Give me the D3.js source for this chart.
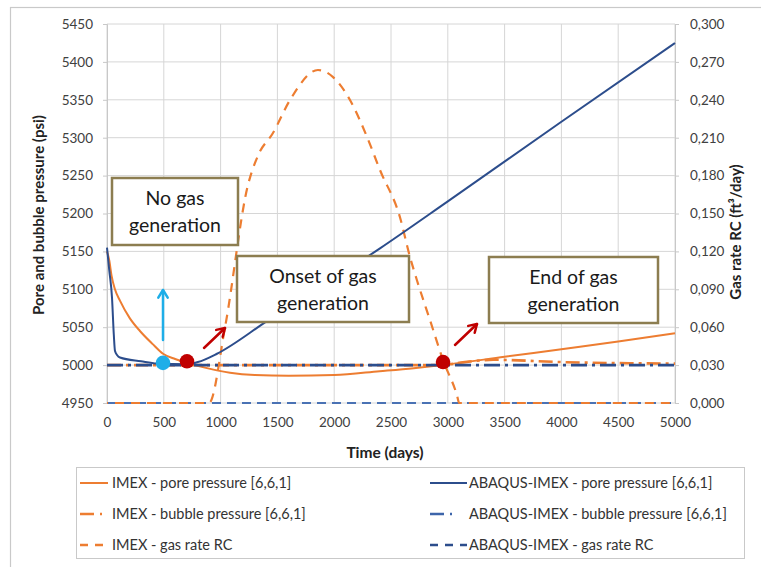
<!DOCTYPE html>
<html><head><meta charset="utf-8">
<script src="https://cdn.jsdelivr.net/npm/d3@7"></script>
<style>
body{margin:0;background:#fff;}
svg{display:block;font-family:Lato,"Open Sans",sans-serif;}
</style></head>
<body><svg id="c" width="761" height="567"></svg>
<script>
// ---- data ----
const xTicks = [0,500,1000,1500,2000,2500,3000,3500,4000,4500,5000];
const yLeftTicks = [4950,5000,5050,5100,5150,5200,5250,5300,5350,5400,5450];
const yRightTicks = [0,0.03,0.06,0.09,0.12,0.15,0.18,0.21,0.24,0.27,0.30];

const imexPoreT = [0,20,40,70,114,200,290,400,493,600,704,880,1083,1300,1600,2000,2400,2700,2950,3500,4000,4500,5000];
const imexPoreP = [5150,5138,5118,5100,5085,5062,5045,5028,5015,5008,5003,4996,4990,4987,4986,4987,4992,4996,5000,5011,5021,5031,5042];

const abqPoreT = [0,20,44,60,70,90,114,300,440,700,800,968,1408,2403,3000,4000,5000];
const abqPoreP = [5155,5125,5089,5040,5019,5013,5010,5005,5002,5001,5004,5015,5058,5154,5216,5321,5425];

const imexBubT = [0,2950,3100,3400,4000,5000];
const imexBubP = [5000,5000,5003,5007,5004,5002];

const abqBubT = [0,5000];
const abqBubP = [5000,5000];

const imexGasT = [0,898,1039,1241,1330,1461,1611,1857,1990,2139,2289,2403,2579,2667,2729,2843,2958,3081,3100,5000];
const imexGasQ = [0,0,0.060,0.1726,0.196,0.2137,0.2398,0.2636,0.258,0.2398,0.2106,0.1844,0.147,0.1156,0.097,0.0657,0.034,0.006,0,0];

const abqGasT = [0,5000];
const abqGasQ = [0,0];

const markerT = [493,704,2958];
const markerP = [5003,5005,5004];

const legendLabels = ["IMEX - pore pressure [6,6,1]","ABAQUS-IMEX - pore pressure [6,6,1]",
  "IMEX - bubble pressure [6,6,1]","ABAQUS-IMEX - bubble pressure [6,6,1]",
  "IMEX - gas rate RC","ABAQUS-IMEX - gas rate RC"];

// ---- drawing ----
const svg = d3.select("#c");
const ORANGE = "#ed7d31", NAVY = "#2c4d8c", BLUE2 = "#3d65aa", BLUE3 = "#4a72b4";
const x = d3.scaleLinear().domain([0,5000]).range([107,675]);
const yL = d3.scaleLinear().domain([4950,5450]).range([403,24]);
const yR = d3.scaleLinear().domain([0,0.3]).range([403,24]);

svg.append("rect").attr("x",10.5).attr("y",7.5).attr("width",800).attr("height",600)
  .attr("fill","none").attr("stroke","#c9c9c9").attr("stroke-width",1.2);

// grid
const g = svg.append("g");
g.selectAll(".vg").data(xTicks).join("line").attr("x1",d=>x(d)).attr("x2",d=>x(d))
  .attr("y1",24).attr("y2",403).attr("stroke","#d6d6d6").attr("stroke-width",1);
g.selectAll(".hg").data(yLeftTicks).join("line").attr("y1",d=>yL(d)).attr("y2",d=>yL(d))
  .attr("x1",107).attr("x2",675).attr("stroke","#d6d6d6").attr("stroke-width",1);

// axes
const axL = d3.axisLeft(yL).tickValues(yLeftTicks).tickSize(4).tickPadding(10).tickFormat(d3.format("d"));
const axR = d3.axisRight(yR).tickValues(yRightTicks).tickSize(4).tickPadding(11).tickFormat(d=>d3.format(".3f")(d).replace(".",","));
const axB = d3.axisBottom(x).tickValues(xTicks).tickSize(0).tickPadding(14).tickFormat(d3.format("d"));
function styleAx(sel){
  sel.select(".domain").attr("stroke","#c8c8c8");
  sel.selectAll(".tick line").attr("stroke","#c8c8c8");
  sel.selectAll("text").attr("fill","#404040").style("font-size","13.5px").style("font-family","Lato,sans-serif");
}
svg.append("g").attr("transform","translate(107,0)").call(axL).call(styleAx);
svg.append("g").attr("transform","translate(675,0)").call(axR).call(styleAx);
svg.append("g").attr("transform","translate(0,403)").call(axB).call(styleAx).select(".domain").remove();

// axis titles
svg.append("text").attr("transform","translate(44,215) rotate(-90)").attr("text-anchor","middle")
  .style("font-size","15px").style("font-weight","bold").attr("fill","#222").text("Pore and bubble pressure (psi)");
svg.append("text").attr("transform","translate(741,232) rotate(-90)").attr("text-anchor","middle")
  .style("font-size","15px").style("font-weight","bold").attr("fill","#222").text("Gas rate RC (ft³/day)");
svg.append("text").attr("x",385).attr("y",458).attr("text-anchor","middle")
  .style("font-size","15.5px").style("font-weight","bold").attr("fill","#222").text("Time (days)");

// lines
const lineL = d3.line().x(d=>x(d[0])).y(d=>yL(d[1]));
const lineR = d3.line().x(d=>x(d[0])).y(d=>yR(d[1])).curve(d3.curveMonotoneX);
const zip = (a,b)=>a.map((v,i)=>[v,b[i]]);
const lineMono = d3.line().x(d=>x(d[0])).y(d=>yL(d[1])).curve(d3.curveMonotoneX);

function path(data, gen, color, w, dash, off){
  const p = svg.append("path").datum(data).attr("d",gen).attr("fill","none")
    .attr("stroke",color).attr("stroke-width",w);
  if(dash) p.attr("stroke-dasharray",dash);
  if(off) p.attr("stroke-dashoffset",off);
  return p;
}
path(zip(abqGasT,abqGasQ), lineR, BLUE3, 2, "9,6", 0);
path(zip(imexGasT,imexGasQ), lineR, ORANGE, 2.2, "9,7", 8);
path(zip(imexBubT,imexBubP), lineMono, ORANGE, 2.6, "14,5,3,5");
path(zip(imexPoreT,imexPoreP), lineMono, ORANGE, 2);
path(zip(abqBubT,abqBubP), lineL, NAVY, 2.8, "16,5,3,5");
path(zip(abqPoreT,abqPoreP), lineMono, NAVY, 2);

// arrows
function arrow(x1,y1,x2,y2,color){
  const a = Math.atan2(y2-y1,x2-x1), L = 9, s = 0.55;
  svg.append("line").attr("x1",x1).attr("y1",y1).attr("x2",x2).attr("y2",y2)
    .attr("stroke",color).attr("stroke-width",2.5).attr("stroke-linecap","round");
  svg.append("path").attr("d",`M${x2-L*Math.cos(a-s)},${y2-L*Math.sin(a-s)}L${x2},${y2}L${x2-L*Math.cos(a+s)},${y2-L*Math.sin(a+s)}`)
    .attr("fill","none").attr("stroke",color).attr("stroke-width",2.5).attr("stroke-linecap","round").attr("stroke-linejoin","round");
}
arrow(163,340,163,290,"#1eaee8");
arrow(204,348,225,328,"#c00000");
arrow(455,345,477,324,"#c00000");

// markers
const mColors = ["#1eaee8","#c00000","#c00000"];
svg.selectAll(".mk").data(markerT).join("circle").attr("cx",d=>x(d)).attr("cy",(d,i)=>yL(markerP[i]))
  .attr("r",7.3).attr("fill",(d,i)=>mColors[i]);

// annotation boxes
const boxes = [
  {x:112,y:178,w:126,h:67,t:["No gas","generation"]},
  {x:237,y:256,w:172,h:66,t:["Onset of gas","generation"]},
  {x:489,y:257,w:169,h:66,t:["End of gas","generation"]}
];
boxes.forEach(b=>{
  svg.append("rect").attr("x",b.x).attr("y",b.y).attr("width",b.w).attr("height",b.h)
    .attr("fill","#fff").attr("stroke","#8c7d50").attr("stroke-width",2.5);
  b.t.forEach((s,i)=>svg.append("text").attr("x",b.x+b.w/2).attr("y",b.y+27+i*27)
    .attr("text-anchor","middle").style("font-size","19.5px").attr("fill","#1a1a1a").text(s));
});

// legend
svg.append("rect").attr("x",76.5).attr("y",467.5).attr("width",668).attr("height",91)
  .attr("fill","#fff").attr("stroke","#c9c9c9").attr("stroke-width",1);
const legStyles = [
  {c:ORANGE,w:2,d:null},{c:NAVY,w:2,d:null},
  {c:ORANGE,w:2.5,d:"14,6,2,20"},{c:BLUE2,w:2.5,d:"14,6,2,20"},
  {c:ORANGE,w:2.5,d:"8,7"},{c:NAVY,w:2.5,d:"8,7"}
];
legendLabels.forEach((lab,i)=>{
  const col = i%2, row = Math.floor(i/2);
  const lx = col===0 ? 80 : 430, ly = 483 + row*31;
  const ln = svg.append("line").attr("x1",lx).attr("x2",lx+(col===0?28:37)).attr("y1",ly).attr("y2",ly)
    .attr("stroke",legStyles[i].c).attr("stroke-width",legStyles[i].w);
  if(legStyles[i].d) ln.attr("stroke-dasharray",legStyles[i].d);
  svg.append("text").attr("x",col===0?112:469).attr("y",ly+5).style("font-size","14.5px")
    .attr("fill","#333").text(lab);
});
</script></body></html>
